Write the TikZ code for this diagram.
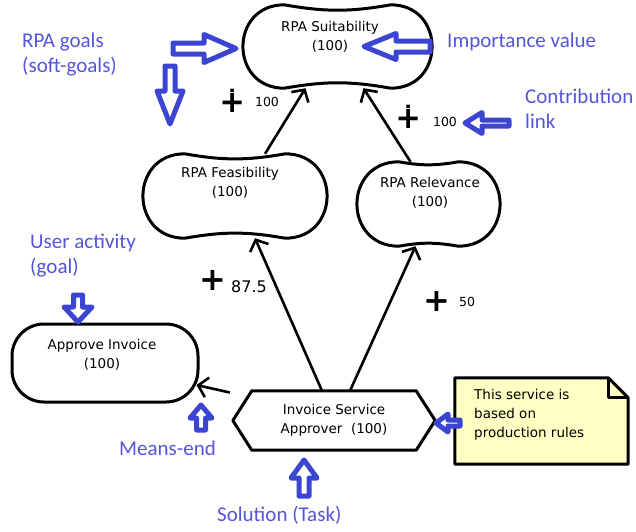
\documentclass[tikz,border=0pt]{standalone}
\usepackage{fontspec}
\setmainfont{DejaVu Sans}
\newfontfamily\annofont{Carlito}
\usetikzlibrary{arrows.meta, positioning, calc}
\definecolor{annoblue}{RGB}{60,68,210}
\definecolor{annotxt}{RGB}{85,85,220}
\definecolor{noteyellow}{RGB}{255,255,196}

% soft-goal outline round a node: node name, side radius
\newcommand{\softgoal}[2]{%
  \draw[outline] ([xshift=#2]#1.north west) to[bend right=10] ([xshift=-#2]#1.north east)
    .. controls +(1.33*#2,0) and +(1.33*#2,0) .. ([xshift=-#2]#1.south east)
    to[bend right=10] ([xshift=#2]#1.south west)
    .. controls +(-1.33*#2,0) and +(-1.33*#2,0) .. ([xshift=#2]#1.north west) -- cycle;
}
% task outline (hexagon): node name, point length
\newcommand{\taskshape}[2]{%
  \draw[outline] (#1.north west) -- (#1.north east) -- ([xshift=#2]#1.east)
    -- (#1.south east) -- (#1.south west) -- ([xshift=-#2]#1.west) -- cycle;
}
% note with folded corner: node name, fold size
\newcommand{\noteshape}[2]{%
  \draw[outline, fill=noteyellow] (#1.north west) -- ([xshift=-#2]#1.north east)
    -- ([yshift=-#2]#1.north east) -- (#1.south east) -- (#1.south west) -- cycle;
  \draw[outline] ([xshift=-#2]#1.north east) |- ([yshift=-#2]#1.north east);
}
% hollow block arrow: tail, direction, length, head length, shaft half width, head half width
\newcommand{\hollowarrow}[6]{%
  \begin{scope}[shift={#1}, rotate=#2]
    \draw[hollow] (0,-#5) -- ({#3-#4},-#5) -- ({#3-#4},-#6) -- (#3,0)
      -- ({#3-#4},#6) -- ({#3-#4},#5) -- (0,#5) -- cycle;
  \end{scope}
}

\begin{document}
\begin{tikzpicture}[x=1pt, y=-1pt,
    outline/.style={draw=black, line width=3pt, line join=round},
    shapebox/.style={rectangle, inner sep=0pt},
    nodetext/.style={align=center, inner sep=0pt, font=\fontsize{13.5}{19}\selectfont},
    contrib/.style={line width=2.6pt, -{Straight Barb[length=9pt, width=20pt, line width=2.6pt]}},
    hollow/.style={draw=annoblue, line width=5pt, fill=white, line join=round},
    annot/.style={anchor=west, align=left, inner sep=0pt, text=annotxt,
        font=\annofont\fontsize{21}{25}\selectfont},
    plusmark/.style={inner sep=0pt, font=\fontsize{32}{32}\selectfont\bfseries},
    weight/.style={inner sep=0pt, font=\fontsize{12.5}{12.5}\selectfont}
]
\useasboundingbox (0,0) rectangle (636,531);

% Soft-goals
\node[shapebox, minimum width=189, minimum height=83] (suit) at (337.5,46.5) {};
\softgoal{suit}{41.5}
\node[nodetext] (suittxt) at (330,37) {RPA Suitability\\(100)};

\node[shapebox, minimum width=184, minimum height=84] (feas) at (235,196) {};
\softgoal{feas}{42}
\node[nodetext] (feastxt) at (230,183) {RPA Feasibility\\(100)};

\node[shapebox, minimum width=143, minimum height=84] (rel) at (428.5,204) {};
\softgoal{rel}{42}
\node[nodetext] (reltxt) at (430,192.5) {RPA Relevance\\(100)};

% Goal
\node[shapebox, outline, rounded corners=32, minimum width=186, minimum height=78] (app) at (105,363) {};
\node[nodetext] (apptxt) at (102,355) {Approve Invoice\\(100)};

% Task
\node[shapebox, nodetext, minimum width=164, minimum height=59] (hex) at (334,420.5) {Invoice Service\\Approver\ \ (100)};
\taskshape{hex}{19}

% Note
\node[shapebox, minimum width=173, minimum height=86] (note) at (541.5,421) {};
\noteshape{note}{20}
\node[nodetext, align=left, anchor=west] (notetxt) at (474,415) {This service is\\based on\\production rules};

% Links
\draw[contrib] ([xshift=30]feas.north) -- ([xshift=-32]suit.south);
\draw[contrib] ([xshift=-18]rel.north) -- ([xshift=26]suit.south);
\draw[contrib] ([xshift=-12]hex.north) -- ([xshift=20]feas.south);
\draw[contrib] ([xshift=16]hex.north) -- ([xshift=-13]rel.south);
\draw[contrib] ([xshift=-22,yshift=28]hex.west) -- ([xshift=-3,yshift=-22]app.east);

% Weights
\node[plusmark] (p1) at (233,101) {∔};
\node[weight] (w1) at (267,102) {100};
\node[plusmark] (p2) at (409,117) {∔};
\node[weight] (w2) at (445,122) {100};
\node[plusmark] (p3) at (213,280) {+};
\node[weight, font=\fontsize{16}{16}\selectfont] (w3) at (249,287) {87.5};
\node[plusmark] (p4) at (437,301) {+};
\node[weight] (w4) at (467,302) {50};

% Annotations
\node[annot] (goalsnote) at (22,54.5) {RPA goals\\(soft-goals)};
\node[annot] (impnote) at (447,42) {Importance value};
\node[annot] (contnote) at (525,109) {Contribution\\link};
\node[annot] (usernote) at (30,255.5) {User activity\\(goal)};
\node[annot] (meansnote) at (119,448) {Means-end};
\node[annot] (solnote) at (217,515) {Solution (Task)};

\hollowarrow{(173,48.5)}{0}{63}{32}{5.5}{14}
\hollowarrow{(170,66)}{270}{58}{33}{5}{13}
\hollowarrow{(430,46.5)}{180}{66}{32}{5.5}{13}
\hollowarrow{(509,123)}{180}{44}{17}{3}{10.5}
\hollowarrow{(78,295)}{270}{27}{15}{4.5}{14}
\hollowarrow{(201,430)}{90}{25}{13}{4.5}{11}
\hollowarrow{(304,496)}{90}{36}{18}{5}{13}
\hollowarrow{(460,423)}{180}{24}{12}{3}{9}

\end{tikzpicture}
\end{document}
